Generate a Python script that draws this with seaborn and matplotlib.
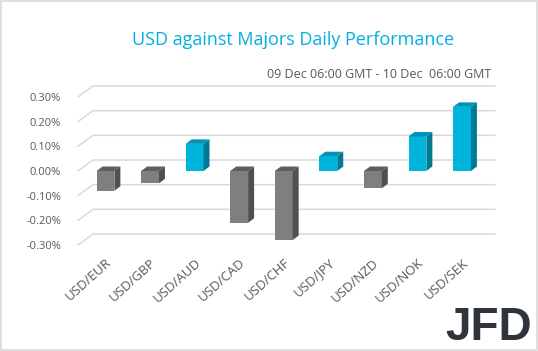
import matplotlib
matplotlib.use("Agg")
import matplotlib.pyplot as plt
import seaborn as sns
import pandas as pd
from matplotlib.patches import Polygon, Rectangle

# --- data ---
pairs = ['USD/EUR', 'USD/GBP', 'USD/AUD', 'USD/CAD', 'USD/CHF',
         'USD/JPY', 'USD/NZD', 'USD/NOK', 'USD/SEK']
values = [-0.08, -0.05, 0.11, -0.21, -0.28, 0.06, -0.07, 0.14, 0.26]
yticks = [-0.3, -0.2, -0.1, 0.0, 0.1, 0.2, 0.3]

df = pd.DataFrame({'pair': pairs, 'value': values})
df['dir'] = ['up' if v > 0 else 'down' for v in df['value']]

BLUE = '#00B4DC'
GREY = '#7F7F7F'
faces = {'up': (BLUE, '#0094B6', '#007A94'),
         'down': (GREY, '#5E5E5E', '#505050')}

sns.set_style('white')
plt.rcParams['font.family'] = ['Open Sans', 'DejaVu Sans']

fig = plt.figure(figsize=(5.38, 3.51), dpi=100)
W, H = 538, 351
ax = fig.add_axes([83.2 / W, 1 - 245 / H, 401.1 / W, 148 / H])

sns.barplot(data=df, x='pair', y='value', hue='dir',
            palette={'up': BLUE, 'down': GREY}, dodge=False, legend=False,
            width=0.4, saturation=1, ax=ax, zorder=3, linewidth=0)
ax.set_ylim(-0.3, 0.3)
ax.set_xlim(-0.5, len(pairs) - 0.5)
for s in ax.spines.values():
    s.set_visible(False)
ax.set_xlabel('')
ax.set_ylabel('')

# pixel -> data conversions
ux = (len(pairs)) / 401.1
uy = 0.6 / 148.0

# back-wall gridlines with 3D diagonal
ax.set_yticks(yticks)
ax.set_yticklabels([f'{v:.2f}%' for v in yticks])
for v in yticks:
    yb = v + 11 * uy
    xl = -0.5 + (78 - 83.2) * ux
    xm = -0.5 + (93 - 83.2) * ux
    xr = -0.5 + (495 - 83.2) * ux
    ax.plot([xl, xm, xr], [v, yb, yb], color='#D9D9D9', lw=1.1,
            clip_on=False, zorder=1)

# 3D faces on bars (match each patch to its category by position)
dx, dy = 6 * ux, 4.5 * uy
for p in list(ax.patches):
    if p.get_height() == 0 or p.get_width() == 0:
        continue
    x0 = p.get_x()
    x1 = x0 + p.get_width()
    idx = int(round(x0 + p.get_width() / 2))
    d = df['dir'].iloc[idx]
    y0 = p.get_y()
    y1 = y0 + p.get_height()
    lo, hi = min(y0, y1), max(y0, y1)
    front, top, side = faces[d]
    ax.add_patch(Polygon([(x0, hi), (x1, hi), (x1 + dx, hi + dy), (x0 + dx, hi + dy)],
                         closed=True, fc=top, ec='none', zorder=3, clip_on=False))
    ax.add_patch(Polygon([(x1, lo), (x1 + dx, lo + dy), (x1 + dx, hi + dy), (x1, hi)],
                         closed=True, fc=side, ec='none', zorder=3, clip_on=False))

ax.tick_params(axis='y', length=0, pad=16, labelsize=8, labelcolor='#595959')
ax.tick_params(axis='x', length=0, pad=8, labelsize=9.5, labelcolor='#595959')
for lab in ax.get_xticklabels():
    lab.set_rotation(42)
    lab.set_ha('right')
    lab.set_rotation_mode('anchor')

# titles
fig.text(293 / W, 1 - 40 / H, 'USD against Majors Daily Performance',
         ha='center', va='center', color='#00B0E0', fontsize=13)
fig.text(491 / W, 1 - 74 / H, '09 Dec 06:00 GMT - 10 Dec  06:00 GMT',
         ha='right', va='center', color='#595959', fontsize=9)

# logo
fig.text(489 / W, 1 - 340 / H, 'JFD', ha='center', va='baseline',
         color='#2F353B', fontsize=33, fontweight='bold',
         family=['Liberation Sans Narrow', 'Liberation Sans', 'DejaVu Sans'])

# frame
fig.patches.append(Rectangle((0.001, 0.002), 0.997, 0.995, transform=fig.transFigure,
                             fill=False, ec='#D9D9D9', lw=1.2))

fig.savefig('out.png', dpi=100, facecolor='white')
